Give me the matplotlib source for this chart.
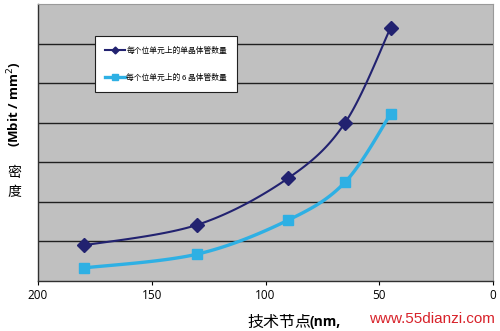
import numpy as np
import matplotlib.pyplot as plt

plt.rcParams['font.family'] = ['Noto Sans CJK SC', 'DejaVu Sans']

# technology node (nm) and density for the two cell types
nodes = [180, 130, 90, 65, 45]
single_tr = [0.90, 1.42, 2.60, 4.00, 6.40]
six_tr = [0.33, 0.68, 1.54, 2.50, 4.22]
label_single = '每个位单元上的单晶体管数量'
label_six = '每个位单元上的 6 晶体管数量'
x_ticks = [200, 150, 100, 50, 0]


def smooth(xs, ys, sx=2.275, sy=39.6, n=30):
    # Bezier smoothing through the points, done in a roughly isotropic space
    p = np.column_stack([np.asarray(xs, float) * sx, np.asarray(ys, float) * sy])
    p = np.vstack([p[0], p, p[-1]])
    out = []
    t = np.linspace(0, 1, n)[:, None]
    for i in range(1, len(p) - 2):
        p0, p3 = p[i], p[i + 1]
        c1 = p0 + (p[i + 1] - p[i - 1]) / 6
        c2 = p3 - (p[i + 2] - p[i]) / 6
        seg = ((1 - t) ** 3) * p0 + 3 * ((1 - t) ** 2) * t * c1 + 3 * (1 - t) * t ** 2 * c2 + t ** 3 * p3
        out.append(seg)
    out = np.vstack(out)
    return out[:, 0] / sx, out[:, 1] / sy


fig = plt.figure(figsize=(5, 3.31), dpi=100)
ax = fig.add_axes([0.076, 0.151, 0.91, 0.837])
ax.set_facecolor('#c0c0c0')

navy = '#222270'
cyan = '#2eb0e4'

for v in range(1, 7):
    ax.axhline(v, color='#202020', lw=1.0, zorder=1)

sx, sy = smooth(nodes, single_tr)
ax.plot(sx, sy, color=navy, lw=1.5, zorder=3)
ax.plot(nodes, single_tr, ls='none', marker='D', ms=7, color=navy, zorder=4)
sx, sy = smooth(nodes, six_tr)
ax.plot(sx, sy, color=cyan, lw=2.4, zorder=3)
ax.plot(nodes, six_tr, ls='none', marker='s', ms=7, color=cyan, zorder=4)

# legend proxies
h1, = ax.plot([], [], color=navy, lw=1.5, marker='D', ms=3.5)
h2, = ax.plot([], [], color=cyan, lw=2.4, marker='s', ms=5)
leg = ax.legend([h1, h2], [label_single, label_six], loc='upper left',
                bbox_to_anchor=(0.125, 0.883), fontsize=5.6, handlelength=2.6,
                labelspacing=2.4, handletextpad=0.15, borderpad=1.3,
                borderaxespad=0, fancybox=False, framealpha=1, edgecolor='#202020')
leg.get_frame().set_linewidth(0.8)

ax.set_xlim(200, 0)
ax.set_ylim(0, 7)
ax.set_xticks(x_ticks)
ax.set_xticklabels([str(v) for v in x_ticks], fontsize=8.5, family='Open Sans')
ax.set_yticks([])
ax.tick_params(axis='x', length=3, width=0.8, pad=3)
for s in ['left', 'bottom']:
    ax.spines[s].set_color('#303030')
    ax.spines[s].set_linewidth(1.0)
for s in ['top', 'right']:
    ax.spines[s].set_color('#9a9a9a')
    ax.spines[s].set_linewidth(0.8)

# axis titles
fig.text(0.03, 0.685, '(Mbit / mm$^2$)', rotation=90, ha='center', va='center',
         fontsize=9.5, fontweight='bold', family='Open Sans')
fig.text(0.028, 0.478, '密', ha='center', va='center', fontsize=10)
fig.text(0.028, 0.42, '度', ha='center', va='center', fontsize=10)
fig.text(0.494, 0.027, '技术节点', ha='left', va='center', fontsize=11.5)
fig.text(0.62, 0.027, '(nm,', ha='left', va='center', fontsize=10, fontweight='bold',
         family='Open Sans')
fig.text(0.99, 0.035, 'www.55dianzi.com', ha='right', va='center', fontsize=11,
         color='#d8222a', family='Liberation Sans')

fig.savefig('out.png', dpi=100)
